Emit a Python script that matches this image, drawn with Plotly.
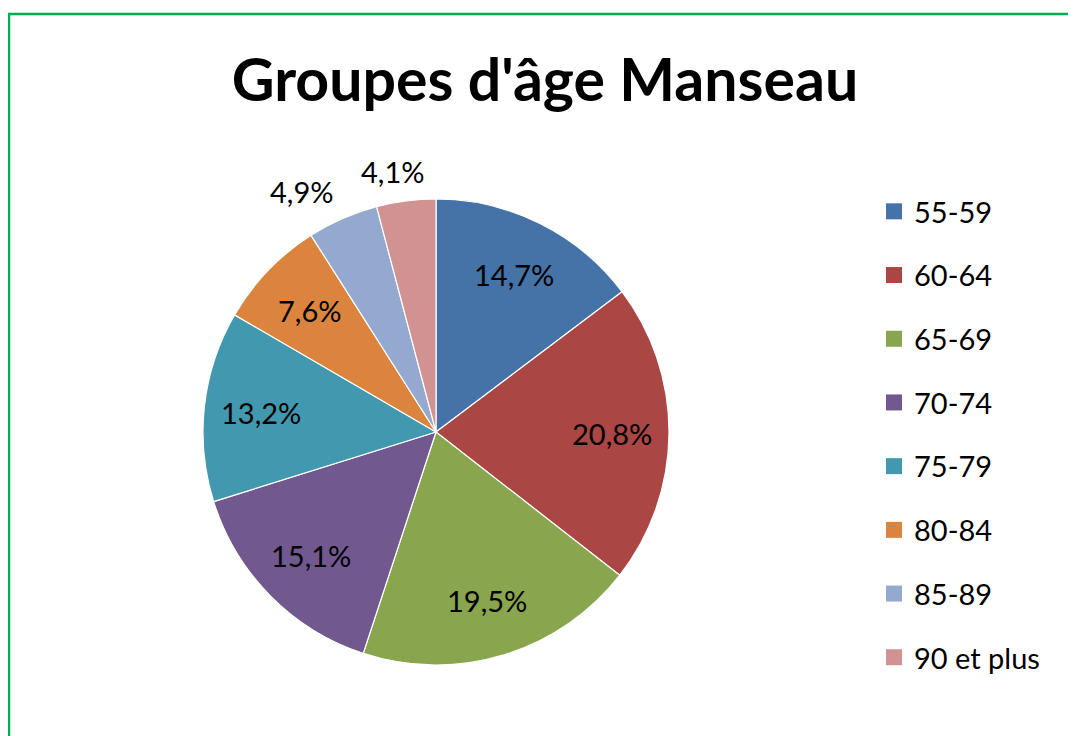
import math
import plotly.graph_objects as go

categories = ["55-59", "60-64", "65-69", "70-74", "75-79", "80-84", "85-89", "90 et plus"]
values = [14.7, 20.8, 19.5, 15.1, 13.2, 7.6, 4.9, 4.1]
value_labels = ["14,7%", "20,8%", "19,5%", "15,1%", "13,2%", "7,6%", "4,9%", "4,1%"]
colors = ["#4572A7", "#AA4643", "#89A54E", "#71588F", "#4198AF", "#DB843D", "#93A9CF", "#D19392"]
label_outside = [False, False, False, False, False, False, True, True]

W, H = 1076, 736
FONT = "Lato"

# pie geometry in figure pixels
CX, CY, R = 428, 424, 233

fig = go.Figure()

fig.add_trace(go.Pie(
    labels=categories,
    values=values,
    text=value_labels,
    textinfo="none",
    marker=dict(colors=colors, line=dict(color="#FFFFFF", width=1.2)),
    sort=False,
    direction="clockwise",
    rotation=0,
    showlegend=False,
    domain=dict(x=[(CX - R) / W, (CX + R) / W], y=[(H - CY - R) / H, (H - CY + R) / H]),
    hovertemplate="%{label}: %{text}<extra></extra>",
))

# data labels placed along each slice's mid-angle (best-fit style)
total = sum(values)
annotations = []
cum = 0.0
for v, lab, out in zip(values, value_labels, label_outside):
    theta = 2 * math.pi * (cum + v / 2) / total
    cum += v
    s, c = math.sin(theta), math.cos(theta)
    if out:
        r = R + 12
        px = CX + r * s + 36 * math.copysign(1, s) * min(1.0, 2.5 * abs(s))
        py = CY - r * c - 18 * c
    else:
        r = 0.755 * R
        px = CX + r * s
        py = CY - r * c
    annotations.append(dict(
        x=px / W, y=1 - py / H, xref="paper", yref="paper",
        text=lab, showarrow=False, xanchor="center", yanchor="middle",
        font=dict(family=FONT, size=29, color="#000000"),
    ))

# legend entries (one group per category for Excel-like spacing)
for cat, col in zip(categories, colors):
    fig.add_trace(go.Scatter(
        x=[None], y=[None], mode="markers", name=cat, legendgroup=cat,
        marker=dict(symbol="square", size=16, color=col),
        hoverinfo="skip",
    ))

fig.update_layout(
    width=W, height=H,
    margin=dict(l=0, r=0, t=0, b=0),
    paper_bgcolor="#FFFFFF",
    plot_bgcolor="#FFFFFF",
    xaxis=dict(visible=False),
    yaxis=dict(visible=False),
    title=dict(
        text="<b>Groupes d'âge Manseau</b>",
        font=dict(family=FONT, size=59, color="#000000"),
        x=537 / W, xanchor="center",
        y=(H - 72) / H, yanchor="middle",
    ),
    legend=dict(
        x=866 / W, xanchor="left",
        y=(H - 178) / H, yanchor="top",
        font=dict(family=FONT, size=29, color="#000000"),
        tracegroupgap=23,
        bgcolor="rgba(0,0,0,0)",
        itemclick=False, itemdoubleclick=False,
    ),
    annotations=annotations,
    shapes=[dict(
        type="rect", xref="paper", yref="paper",
        x0=1 / W, x1=1.02, y0=-0.02, y1=(H - 6) / H,
        line=dict(color="#00B050", width=2.5),
        fillcolor="rgba(0,0,0,0)",
    )],
)

fig.write_html("out.html")
